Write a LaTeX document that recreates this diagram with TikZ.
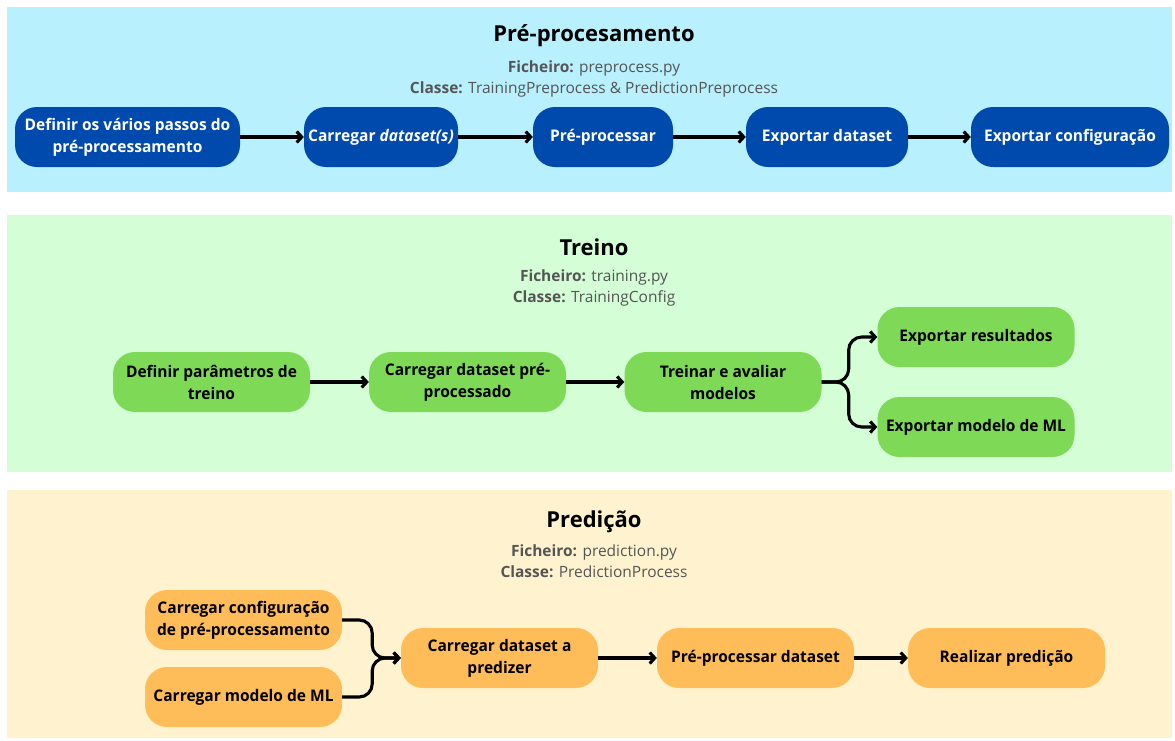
\documentclass[tikz,border=0pt]{standalone}
\usepackage{fontspec}
\setmainfont{Open Sans}
\newfontfamily\cxfont{Open Sans}[FakeStretch=0.97]
\usetikzlibrary{arrows.meta,positioning}
\definecolor{azulfundo}{HTML}{B8F0FD}
\definecolor{verdefundo}{HTML}{D3FED6}
\definecolor{amarelofundo}{HTML}{FFF3CF}
\definecolor{azul}{HTML}{004AAD}
\definecolor{verde}{HTML}{7ED957}
\definecolor{laranja}{HTML}{FFBD59}
\definecolor{cinza}{HTML}{555555}
\tikzset{
  caixa/.style={rounded corners=22pt,minimum height=60pt,inner sep=2pt,align=center,
    font=\cxfont\bfseries\fontsize{16}{22}\selectfont},
  azulcx/.style={caixa,fill=azul,text=white},
  verdecx/.style={caixa,fill=verde,minimum width=197pt},
  larcx/.style={caixa,fill=laranja,minimum width=197pt},
  seta/.style={line width=3.1pt,-{Straight Barb[length=5pt,width=11pt]}},
  titulo/.style={font=\bfseries\fontsize{22}{26}\selectfont},
  sub/.style={text=cinza,align=center,font=\fontsize{15.5}{21}\selectfont},
}

\begin{document}
\begin{tikzpicture}[x=1pt,y=-1pt]
  \useasboundingbox (0,0) rectangle (1175,740);
  % paineis
  \fill[azulfundo] (7,7) rectangle (1172,192);
  \fill[verdefundo] (7,215) rectangle (1172,472);
  \fill[amarelofundo] (7,490) rectangle (1172,738);

  % pre-processamento
  \node[titulo] (t1) at (594,36) {Pré-procesamento};
  \node[sub] (s1) at (594,79) {\textbf{Ficheiro:} preprocess.py\\
    \textbf{Classe:} TrainingPreprocess \& PredictionPreprocess};
  \node[azulcx,minimum width=225pt] (b1) at (127.5,137) {Definir os vários passos do\\pré-processamento};
  \node[azulcx,minimum width=154pt] (b2) at (381,137) {Carregar \textit{dataset(s)}};
  \node[azulcx,minimum width=140pt] (b3) at (603,137) {Pré-processar};
  \node[azulcx,minimum width=162pt] (b4) at (827,137) {Exportar dataset};
  \node[azulcx,minimum width=198pt] (b5) at (1070,137) {Exportar configuração};
  \draw[seta] (b1) -- (b2);
  \draw[seta] (b2) -- (b3);
  \draw[seta] (b3) -- (b4);
  \draw[seta] (b4) -- (b5);

  % treino
  \node[titulo] (t2) at (594,247) {Treino};
  \node[sub] (s2) at (594,288) {\textbf{Ficheiro:} training.py\\\textbf{Classe:} TrainingConfig};
  \node[verdecx] (g1) at (211.5,382) {Definir parâmetros de\\treino};
  \node[verdecx] (g2) at (467.5,382) {Carregar dataset pré-\\processado};
  \node[verdecx] (g3) at (723,382) {Treinar e avaliar\\modelos};
  \node[verdecx] (g4) at (976,337) {Exportar resultados};
  \node[verdecx] (g5) at (976,427) {Exportar modelo de ML};
  \draw[seta] (g1) -- (g2);
  \draw[seta] (g2) -- (g3);
  \draw[seta,rounded corners=13pt] (g3.east) -- ++(27,0) |- (g4.west);
  \draw[seta,rounded corners=13pt] (g3.east) -- ++(27,0) |- (g5.west);

  % predicao
  \node[titulo] (t3) at (594,522) {Predição};
  \node[sub] (s3) at (594,561) {\textbf{Ficheiro:} prediction.py\\\textbf{Classe:} PredictionProcess};
  \node[larcx] (y1) at (243.5,620) {Carregar configuração\\de pré-processamento};
  \node[larcx] (y2) at (243.5,697) {Carregar modelo de ML};
  \node[larcx] (y3) at (499.5,658) {Carregar dataset a\\predizer};
  \node[larcx] (y4) at (755.5,658) {Pré-processar dataset};
  \node[larcx] (y5) at (1006.5,658) {Realizar predição};
  \draw[seta,rounded corners=13pt] (y1.east) -- ++(30,0) |- (y3.west);
  \draw[seta,rounded corners=13pt] (y2.east) -- ++(30,0) |- (y3.west);
  \draw[seta] (y3) -- (y4);
  \draw[seta] (y4) -- (y5);
\end{tikzpicture}
\end{document}
